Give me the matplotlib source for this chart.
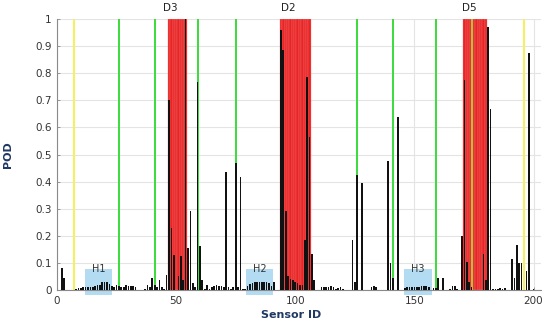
import matplotlib
matplotlib.use("Agg")
import matplotlib.pyplot as plt
from matplotlib.patches import Rectangle
import numpy as np

# sensor ids 1..200 and their POD values
sensor_ids = np.arange(1, 201)
pod = [
    0, 0.08, 0.045, 0, 0, 0, 0, 0.005, 0.008, 0.008,            # 1-10
    0.01, 0.01, 0.01, 0.012, 0.012, 0.015, 0.018, 0.02, 0.028, 0.03,  # 11-20
    0.028, 0.022, 0.015, 0.01, 0.02, 0.015, 0.012, 0.01, 0.018, 0.015,  # 21-30
    0.015, 0.015, 0.01, 0, 0, 0, 0.005, 0.02, 0.01, 0.045,       # 31-40
    0.02, 0.01, 0.038, 0.012, 0.002, 0.055, 0.70, 0.23, 0.13, 0.0,  # 41-50
    0.05, 0.127, 0.037, 1.0, 0.156, 0.29, 0.025, 0.012, 0.766, 0.162,  # 51-60
    0.035, 0.005, 0.02, 0.002, 0.01, 0.015, 0.02, 0.015, 0.015, 0.01,  # 61-70
    0.434, 0.01, 0.005, 0.01, 0.47, 0.01, 0.418, 0.005, 0.005, 0.015,  # 71-80
    0.022, 0.025, 0.028, 0.03, 0.03, 0.03, 0.03, 0.028, 0.025, 0.015,  # 81-90
    0.03, 0, 0, 0.96, 0.886, 0.29, 0.05, 0.04, 0.035, 0.03,      # 91-100
    0.025, 0.02, 0.02, 0.185, 0.787, 0.566, 0.133, 0.035, 0, 0,  # 101-110
    0.01, 0.012, 0.01, 0.012, 0.015, 0.01, 0.005, 0.008, 0.01, 0.005,  # 111-120
    0, 0, 0, 0.184, 0.03, 0.424, 0, 0.396, 0, 0,                 # 121-130
    0, 0.012, 0.015, 0.012, 0, 0, 0, 0, 0.477, 0.098,            # 131-140
    0.043, 0, 0.637, 0, 0, 0.008, 0.012, 0.01, 0.01, 0.01,       # 141-150
    0.012, 0.012, 0.015, 0.015, 0.015, 0.01, 0, 0.008, 0.008, 0.045,  # 151-160
    0, 0.045, 0, 0, 0.005, 0.015, 0.015, 0.005, 0, 0.2,          # 161-170
    0.777, 0.105, 0.03, 0.01, 0, 0, 0, 0, 0.133, 0.035,          # 171-180
    0.97, 0.668, 0.005, 0.005, 0.005, 0.008, 0.005, 0.008, 0, 0,  # 181-190
    0.113, 0.045, 0.166, 0.098, 0.098, 0, 0.07, 0.876, 0, 0.005,  # 191-200
]

# highlighted sensors (full height)
red_ids = list(range(47, 55)) + list(range(94, 107)) + list(range(171, 181))
green_ids = [26, 41, 59, 75, 126, 141, 159]
yellow_ids = [7, 196]
olive_ids = [174]

damage_labels = ["D3", "D2", "D5"]
damage_x = [47.5, 97, 173]

healthy_labels = ["H1", "H2", "H3"]
healthy_start = [11.8, 79.4, 145.8]
healthy_end = [23.1, 90.7, 157.2]

yticks = [0, 0.1, 0.2, 0.3, 0.4, 0.5, 0.6, 0.7, 0.8, 0.9, 1]
ytick_labels = ["0", "0.1", "0.2", "0.3", "0.4", "0.5", "0.6", "0.7", "0.8", "0.9", "1"]
xticks = [0, 50, 100, 150, 200]

navy = "#1f3864"

fig = plt.figure(figsize=(5.5, 3.24), dpi=100)
ax = fig.add_axes([0.1036, 0.105, 0.8794, 0.836])

# healthy regions (behind the bars)
for lab, a, b in zip(healthy_labels, healthy_start, healthy_end):
    ax.add_patch(Rectangle((a, -0.02), b - a, 0.097, facecolor="#b3dcf2",
                           edgecolor="none", zorder=1.5, clip_on=False))
    ax.text((a + b) / 2, 0.079, lab, ha="center", va="center", fontsize=7,
            color="#333333", zorder=5)

# full height coloured bars
ax.bar(red_ids, [1] * len(red_ids), width=1.0, color="#e92424",
       edgecolor="#f37a7a", linewidth=0.25, zorder=2)
ax.bar(green_ids, [1] * len(green_ids), width=0.8, color="#3fdc3f", zorder=2.5)
ax.bar(yellow_ids, [1] * len(yellow_ids), width=0.8, color="#f4f15a", zorder=2.5)
ax.bar(olive_ids, [1] * len(olive_ids), width=0.8, color="#b3c23a", zorder=2.5)

# POD bars
ax.bar(sensor_ids, pod, width=0.7, color="#111111", zorder=3)

for lab, x in zip(damage_labels, damage_x):
    ax.text(x, 1.04, lab, ha="center", va="center", fontsize=7.5,
            color="#222222", clip_on=False)

ax.set_xlim(0, 203)
ax.set_ylim(0, 1)
ax.set_yticks(yticks)
ax.set_yticklabels(ytick_labels)
ax.set_xticks(xticks)

ax.grid(True, color="#e4e4e4", linewidth=0.8, zorder=0)
ax.set_axisbelow(True)

for s in ["top", "right"]:
    ax.spines[s].set_visible(False)
for s in ["left", "bottom"]:
    ax.spines[s].set_color("#8a8a8a")
    ax.spines[s].set_linewidth(0.8)

ax.tick_params(axis="both", direction="in", length=2, width=0.6,
               color="#8a8a8a", labelsize=7.5, labelcolor="#333333")
ax.tick_params(axis="x", pad=4)
ax.tick_params(axis="y", pad=4)

ax.set_xlabel("Sensor ID", fontsize=8, fontweight="bold", color=navy)
ax.xaxis.set_label_coords(0.484, -0.075)
ax.set_ylabel("POD", fontsize=8, fontweight="bold", color=navy)
ax.yaxis.set_label_coords(-0.09, 0.5)

fig.savefig("out.png", dpi=100)
